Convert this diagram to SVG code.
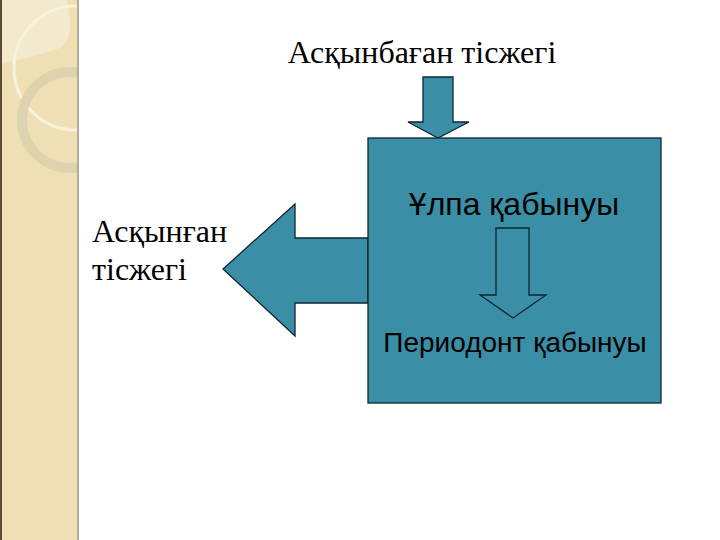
<svg xmlns="http://www.w3.org/2000/svg" width="720" height="540" viewBox="0 0 720 540">
<defs>
<style>
.shape{fill:#3A8FA6;stroke:#0d2630;stroke-width:1.3;stroke-linejoin:miter}
.serif{font-family:"Liberation Serif","Times New Roman",serif;fill:#000}
.sans{font-family:"Liberation Sans",Arial,sans-serif;fill:#000}
</style>
<clipPath id="sb"><rect x="0" y="0" width="78" height="540"/></clipPath>
</defs>
<rect width="720" height="540" fill="#fff"/>
<g id="sidebar">
<rect x="0" y="0" width="78" height="540" fill="#EEDFB5"/>
<g clip-path="url(#sb)">
<path d="M0,0 L67,0 Q76,38 60,48 Q30,58 0,64 Z" fill="#F3E9CC"/>
<circle cx="76" cy="68" r="62" fill="none" stroke="#F8F1DE" stroke-width="3"/>
<circle cx="70" cy="120" r="48" fill="none" stroke="#DDD3AF" stroke-width="10"/>
</g>
<rect x="0" y="0" width="2" height="540" fill="#5B4A35"/>
<rect x="77" y="0" width="2" height="540" fill="#B8A995"/>
</g>
<g id="connectors">
<polygon id="left-arrow" class="shape" points="368,238 295,238 295,204 223,269 295,336 295,303 368,303"/>
<polygon id="top-arrow" class="shape" points="423,77 453,77 453,122 469,122 438,138 408,122 423,122"/>
</g>
<g id="box">
<rect x="368" y="138" width="293" height="265" class="shape"/>
<text class="sans" x="514" y="215" font-size="32" text-anchor="middle">Ұлпа қабынуы</text>
<polygon id="inner-arrow" class="shape" points="496,228 529,228 529,295 546,295 513,318 480,295 496,295"/>
<text class="sans" x="515" y="352" font-size="28" text-anchor="middle">Периодонт қабынуы</text>
</g>
<g id="label-top">
<text class="serif" x="422" y="63" font-size="32" text-anchor="middle">Асқынбаған тісжегі</text>
</g>
<g id="label-left">
<text class="serif" x="92" y="242" font-size="32">Асқынған</text>
<text class="serif" x="92" y="280" font-size="32">тісжегі</text>
</g>
</svg>
